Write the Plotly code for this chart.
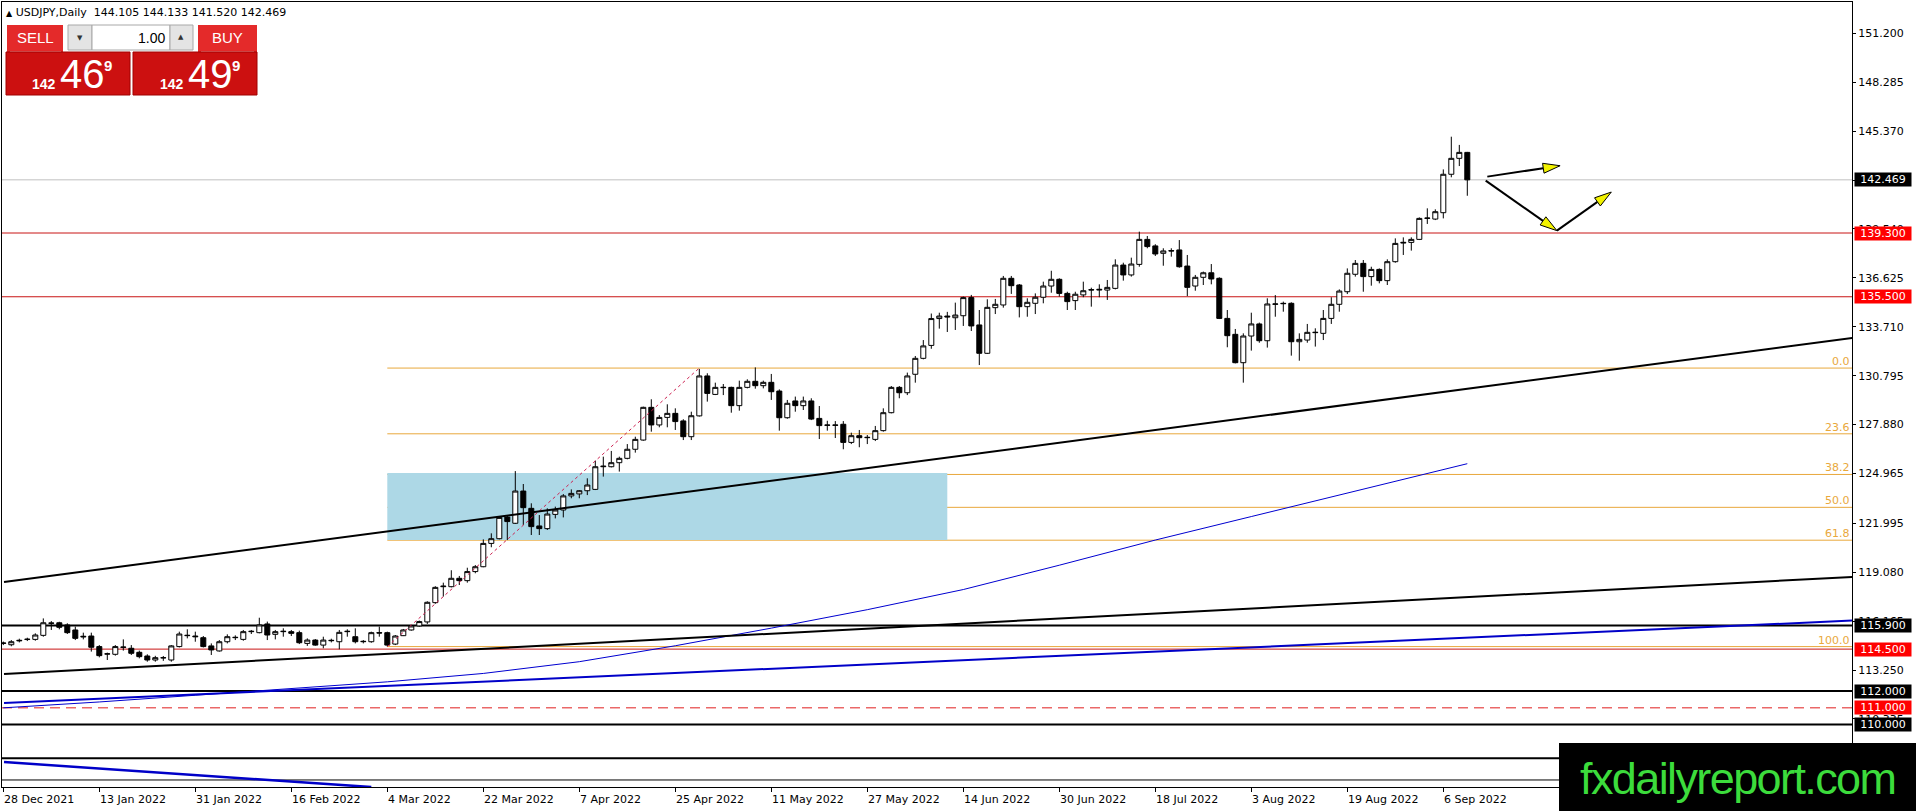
import math

import plotly.graph_objects as go


# Chart data ==========================================================================================================
# daily USDJPY bars, index 0 = 28 Dec 2021 ... index 183 = 9 Sep 2022
bar_open = [
    114.84, 114.76, 114.99, 115.07, 115.08, 115.32, 116.06, 116.07, 115.94, 115.64,
    115.22, 115.28, 114.65, 114.20, 114.19, 114.60, 114.55, 114.31, 114.09, 113.85,
    113.99, 113.85, 114.65, 115.30, 115.28, 115.18, 114.69, 114.39, 114.94, 115.18,
    115.08, 115.54, 115.48, 116.00, 115.38, 115.54, 115.54, 115.48, 114.84, 115.04,
    114.74, 115.00, 114.94, 115.54, 115.24, 114.94, 114.94, 115.48, 115.48, 114.80,
    115.30, 115.64, 115.88, 116.12, 117.27, 118.22, 118.22, 118.72, 118.58, 119.12,
    119.41, 120.80, 121.08, 122.37, 122.00, 123.92, 122.89, 121.84, 121.68, 122.53,
    122.79, 123.63, 123.75, 123.94, 124.02, 125.37, 125.37, 125.61, 125.87, 126.41,
    126.96, 128.91, 127.86, 128.31, 128.55, 128.10, 127.16, 128.40, 130.78, 129.68,
    130.08, 130.10, 129.01, 130.10, 130.46, 130.20, 130.40, 129.88, 128.29, 129.29,
    129.01, 129.29, 128.25, 127.86, 127.86, 127.90, 126.82, 127.22, 127.10, 127.00,
    127.52, 128.59, 130.10, 129.78, 130.88, 131.83, 132.60, 134.20, 134.35, 134.25,
    134.37, 135.45, 133.82, 132.13, 134.85, 135.01, 136.60, 136.20, 134.91, 135.11,
    135.47, 136.14, 136.54, 135.70, 135.27, 135.61, 135.90, 135.90, 135.90, 136.00,
    137.39, 136.80, 137.43, 138.92, 138.53, 138.09, 138.25, 138.29, 137.33, 136.14,
    136.66, 136.93, 136.60, 134.21, 133.26, 131.57, 133.16, 133.88, 132.88, 135.05,
    135.11, 135.11, 132.82, 132.92, 133.36, 133.32, 134.21, 135.05, 135.80, 136.84,
    137.49, 136.70, 137.13, 136.46, 137.59, 138.70, 138.74, 138.92, 140.17, 140.13,
    140.51, 142.80, 143.75, 144.105,
]
bar_high = [
    114.95, 115.04, 115.12, 115.18, 115.44, 116.33, 116.17, 116.13, 116.04, 115.84,
    115.48, 115.48, 114.74, 114.29, 114.74, 115.08, 114.74, 114.41, 114.19, 114.10,
    114.09, 114.74, 115.54, 115.68, 115.54, 115.28, 114.84, 115.04, 115.38, 115.32,
    115.64, 115.64, 116.37, 116.14, 115.64, 115.74, 115.64, 115.60, 115.14, 115.10,
    115.24, 115.12, 115.64, 115.68, 115.74, 115.04, 115.54, 115.84, 115.54, 115.34,
    115.70, 115.92, 116.20, 117.35, 118.25, 118.46, 119.20, 118.86, 119.35, 119.51,
    121.04, 121.40, 122.39, 122.45, 125.11, 124.34, 123.19, 122.49, 122.89, 122.99,
    123.74, 124.02, 123.98, 124.68, 125.73, 125.97, 126.31, 125.97, 126.72, 127.16,
    128.95, 129.39, 128.45, 129.09, 128.85, 128.20, 128.65, 131.20, 130.94, 130.38,
    130.30, 130.14, 130.50, 130.58, 131.29, 130.50, 130.90, 129.98, 129.35, 129.55,
    129.55, 129.45, 128.99, 128.11, 128.09, 128.09, 127.40, 127.56, 127.26, 127.80,
    128.85, 130.18, 130.18, 130.98, 131.97, 132.92, 134.50, 134.55, 134.60, 135.15,
    135.51, 135.61, 134.71, 135.35, 135.37, 136.74, 136.74, 136.26, 135.41, 135.70,
    136.40, 137.05, 136.60, 135.80, 135.80, 136.40, 136.04, 136.24, 136.50, 137.73,
    137.53, 137.83, 139.38, 139.12, 138.63, 138.39, 138.39, 138.88, 137.99, 136.80,
    137.00, 137.45, 136.66, 134.71, 133.58, 133.32, 134.55, 133.96, 135.41, 135.60,
    135.21, 135.17, 133.32, 133.88, 133.62, 134.71, 135.47, 135.94, 137.19, 137.69,
    137.69, 137.29, 137.19, 137.73, 138.98, 139.04, 139.04, 140.23, 140.77, 140.71,
    143.09, 145.04, 144.55, 144.133,
]
bar_low = [
    114.74, 114.67, 114.90, 114.98, 115.00, 115.24, 115.64, 115.68, 115.40, 115.04,
    115.08, 114.35, 114.01, 113.85, 114.11, 114.41, 114.15, 113.95, 113.75, 113.75,
    113.80, 113.75, 114.60, 115.14, 114.94, 114.60, 114.15, 114.35, 114.84, 115.04,
    115.00, 115.40, 115.44, 115.04, 115.08, 115.24, 115.28, 114.80, 114.69, 114.70,
    114.55, 114.90, 114.49, 115.24, 114.84, 114.84, 114.88, 115.24, 114.65, 114.74,
    115.28, 115.60, 115.84, 116.00, 117.20, 117.63, 118.18, 118.32, 118.46, 119.02,
    119.38, 120.57, 121.04, 121.00, 121.96, 121.90, 121.30, 121.30, 121.60, 122.29,
    122.35, 123.49, 123.49, 123.68, 123.98, 124.78, 125.33, 125.08, 125.81, 126.21,
    126.92, 127.46, 127.72, 127.72, 127.56, 126.96, 126.96, 128.36, 129.25, 129.64,
    129.64, 128.59, 128.71, 130.04, 130.02, 130.04, 129.35, 127.52, 128.23, 128.65,
    128.75, 128.15, 127.02, 127.52, 127.08, 126.41, 126.72, 126.53, 126.72, 126.90,
    127.46, 128.55, 129.45, 129.64, 130.38, 131.77, 132.40, 133.60, 133.40, 133.52,
    133.76, 133.46, 131.43, 132.09, 134.47, 134.85, 135.67, 134.27, 134.31, 134.47,
    135.11, 135.74, 135.51, 134.71, 134.71, 135.47, 134.91, 135.47, 135.31, 135.94,
    136.46, 136.70, 137.29, 138.39, 137.93, 137.35, 137.89, 137.23, 135.54, 135.86,
    136.20, 136.24, 134.17, 132.49, 131.53, 130.38, 132.29, 132.76, 132.47, 134.31,
    134.61, 131.99, 131.69, 132.76, 132.53, 132.92, 133.88, 134.61, 135.66, 136.70,
    135.80, 136.16, 136.30, 136.20, 137.53, 137.99, 138.25, 138.88, 139.84, 140.07,
    140.17, 142.62, 143.29, 141.520,
]
bar_close = [
    114.86, 114.94, 115.02, 115.09, 115.34, 116.07, 116.04, 115.80, 115.48, 115.14,
    115.26, 114.61, 114.11, 114.22, 114.65, 114.62, 114.25, 114.05, 113.85, 113.99,
    113.98, 114.69, 115.40, 115.32, 115.24, 114.65, 114.45, 114.94, 115.24, 115.20,
    115.54, 115.56, 115.94, 115.34, 115.54, 115.56, 115.44, 114.88, 115.04, 114.74,
    115.04, 115.02, 115.50, 115.56, 114.94, 114.96, 115.48, 115.46, 114.74, 115.28,
    115.64, 115.88, 116.14, 117.29, 118.18, 118.25, 118.72, 118.58, 119.12, 119.41,
    120.80, 121.08, 122.35, 122.10, 123.92, 122.93, 121.80, 121.68, 122.55, 122.79,
    123.63, 123.78, 123.94, 124.28, 125.37, 125.40, 125.61, 125.87, 126.41, 127.00,
    128.91, 127.86, 128.31, 128.55, 128.06, 127.16, 128.41, 130.78, 129.74, 130.10,
    130.10, 129.01, 130.10, 130.46, 130.20, 130.40, 129.84, 128.29, 129.15, 129.01,
    129.29, 128.21, 127.82, 127.84, 127.84, 126.82, 127.22, 127.10, 127.12, 127.52,
    128.59, 130.10, 129.78, 130.78, 131.83, 132.57, 134.20, 134.35, 134.30, 134.41,
    135.45, 133.76, 132.13, 134.87, 135.05, 136.60, 136.16, 134.91, 135.17, 135.47,
    136.14, 136.54, 135.70, 135.21, 135.65, 135.86, 135.92, 135.94, 136.06, 137.39,
    136.80, 137.45, 138.92, 138.49, 138.05, 138.23, 138.23, 137.29, 136.06, 136.66,
    136.93, 136.56, 134.21, 133.18, 131.57, 133.16, 133.88, 132.88, 135.07, 135.07,
    135.09, 132.82, 132.96, 133.38, 133.38, 134.21, 135.05, 135.84, 136.90, 137.49,
    136.70, 137.13, 136.46, 137.59, 138.68, 138.74, 138.92, 140.17, 140.19, 140.57,
    142.80, 143.75, 144.105, 142.469,
]

date_labels = [
    "28 Dec 2021", "13 Jan 2022", "31 Jan 2022", "16 Feb 2022", "4 Mar 2022", "22 Mar 2022",
    "7 Apr 2022", "25 Apr 2022", "11 May 2022", "27 May 2022", "14 Jun 2022", "30 Jun 2022",
    "18 Jul 2022", "3 Aug 2022", "19 Aug 2022", "6 Sep 2022",
]
bars_per_label = 12

price_ticks = [151.200, 148.285, 145.370, 142.455, 139.540, 136.625, 133.710, 130.795,
               127.880, 124.965, 121.995, 119.080, 116.165, 113.250, 110.335]

# 200-day moving average, sampled at bar indices
ma_bars = [0, 12, 24, 36, 48, 60, 72, 84, 96, 108, 120, 132, 144, 156, 168, 180, 183]
ma_values = [111.0, 111.35, 111.75, 112.15, 112.55, 113.05, 113.75, 114.7, 115.75,
             116.85, 118.05, 119.5, 121.0, 122.4, 123.8, 125.2, 125.55]

# hand drawn objects (bar index, price)
trend_black_upper = [(0.09, 118.50), (231.1, 133.04)]
trend_black_lower = [(0.09, 113.02), (231.1, 118.80)]
trend_blue = [(0.09, 111.29), (231.1, 116.20)]
trend_blue_down = [(0.09, 107.77), (46.0, 106.28)]

fib_start_bar, fib_end_bar = 48, 87
fib_low, fib_high = 114.65, 131.25
fib_levels = [0.0, 23.6, 38.2, 50.0, 61.8, 100.0]

zone_bars = (48, 118)
zone_prices = (121.0, 125.0)

black_levels = [115.9, 112.0, 110.0, 108.0]
thin_black_levels = [106.7]
red_levels = [139.3, 135.5, 114.5]
red_dashed_levels = [111.0]
last_price = 142.469

labelled_levels = [(142.469, "black"), (139.3, "red"), (135.5, "red"), (115.9, "black"),
                   (114.5, "red"), (112.0, "black"), (111.0, "red"), (110.0, "black")]

arrows = [((185.5, 142.66), (194.6, 143.31)),
          ((185.3, 142.42), (194.2, 139.44)),
          ((194.2, 139.44), (201.0, 141.74))]

header = "USDJPY,Daily\u00a0\u00a0144.105 144.133 141.520 142.469"


# Geometry ============================================================================================================
W, H = 1916, 811
PLOT_L, PLOT_R, PLOT_T, PLOT_B = 2, 1852, 2, 787
PX_PER_BAR = 8.0
PRICE_PER_PX = 0.0596
X_LO = (PLOT_L - 3.3) / PX_PER_BAR
X_HI = X_LO + (PLOT_R - PLOT_L) / PX_PER_BAR
Y_HI = 139.3 + (233 - PLOT_T) * PRICE_PER_PX
Y_LO = Y_HI - (PLOT_B - PLOT_T) * PRICE_PER_PX

FONT = "DejaVu Sans"
RED = "#FF0000"
LINE_RED = "#C81414"
FIB = "#E9A83C"


def px_x(x):
    return (x - PLOT_L) / (PLOT_R - PLOT_L)


def px_y(y):
    return (PLOT_B - y) / (PLOT_B - PLOT_T)


def hline(fig, price, color, width, dash="solid", x0=0.0):
    fig.add_shape(type="line", xref="paper", yref="y", x0=x0, x1=1, y0=price, y1=price,
                  line=dict(color=color, width=width, dash=dash), layer="below")


def seg(fig, pts, color, width, dash="solid"):
    fig.add_trace(go.Scatter(x=[p[0] for p in pts], y=[p[1] for p in pts], mode="lines",
                             line=dict(color=color, width=width, dash=dash), hoverinfo="skip"))


def box_px(fig, x0, y0, x1, y1, fill, line=None):
    fig.add_shape(type="rect", xref="paper", yref="paper", x0=px_x(x0), x1=px_x(x1),
                  y0=px_y(y0), y1=px_y(y1), fillcolor=fill, layer="above",
                  line=dict(color=line or fill, width=1 if line else 0))


def text_px(fig, x, y, text, size, color="black", xanchor="center", family=FONT, bold=False):
    if bold:
        text = "<b>" + text + "</b>"
    fig.add_annotation(xref="paper", yref="paper", x=px_x(x), y=px_y(y), text=text, showarrow=False,
                       xanchor=xanchor, yanchor="middle", borderpad=0,
                       font=dict(family=family, size=size, color=color))


def arrow(fig, tail, tip, length=17, width=10):
    px_per_price = 1 / PRICE_PER_PX
    dx = (tip[0] - tail[0]) * PX_PER_BAR
    dy = (tip[1] - tail[1]) * px_per_price
    n = math.hypot(dx, dy)
    ux, uy = dx / n, dy / n
    bx, by = -ux * length, -uy * length
    nx, ny = -uy * width / 2, ux * width / 2

    def to_data(px, py):
        return tip[0] + px / PX_PER_BAR, tip[1] + py / px_per_price

    base = to_data(bx, by)
    seg(fig, [tail, base], "black", 2)
    pts = [to_data(0, 0), to_data(bx + nx, by + ny), to_data(bx - nx, by - ny)]
    path = "M " + " L ".join(f"{a},{b}" for a, b in pts) + " Z"
    fig.add_shape(type="path", xref="x", yref="y", path=path, fillcolor="#F2F200",
                  line=dict(color="black", width=1), layer="above")


# Figure ==============================================================================================================
def build():
    fig = go.Figure()
    bars = list(range(len(bar_close)))

    # levels and drawing objects under the candles
    fig.add_shape(type="rect", xref="x", yref="y", x0=zone_bars[0], x1=zone_bars[1],
                  y0=zone_prices[0], y1=zone_prices[1], fillcolor="#ADD8E6", line=dict(width=0), layer="below")
    for p in black_levels:
        hline(fig, p, "black", 2)
    for p in thin_black_levels:
        hline(fig, p, "black", 1)
    for p in red_levels:
        hline(fig, p, LINE_RED, 1)
    for p in red_dashed_levels:
        hline(fig, p, "#E01E1E", 1, dash="10px,6px")
    hline(fig, last_price, "#C0C0C0", 1)

    fib_x0 = px_x(3.3 + fib_start_bar * PX_PER_BAR)
    for lvl in fib_levels:
        price = fib_high - lvl / 100 * (fib_high - fib_low)
        hline(fig, price, FIB, 1, x0=fib_x0)
        fig.add_annotation(xref="paper", yref="y", x=px_x(1851), y=price, text=f"{lvl:.1f}",
                           showarrow=False, xanchor="right", yanchor="bottom", borderpad=0, yshift=-1,
                           font=dict(family=FONT, size=11, color=FIB))

    fig.add_trace(go.Candlestick(
        x=bars, open=bar_open, high=bar_high, low=bar_low, close=bar_close,
        increasing=dict(line=dict(color="black", width=1), fillcolor="white"),
        decreasing=dict(line=dict(color="black", width=1), fillcolor="black"),
        hoverinfo="skip", whiskerwidth=0,
    ))

    seg(fig, [(fib_start_bar, fib_low), (fib_end_bar, fib_high)], "#CC2050", 1, dash="3px,3px")
    seg(fig, list(zip(ma_bars, ma_values)), "#0000D0", 1)
    seg(fig, trend_black_upper, "black", 2)
    seg(fig, trend_black_lower, "black", 2)
    seg(fig, trend_blue, "#0000C8", 2)
    seg(fig, trend_blue_down, "#0000C8", 2.5)

    for tail, tip in arrows:
        arrow(fig, tail, tip)

    # price labels on the right scale
    for price, kind in labelled_levels:
        bg = "black" if kind == "black" else RED
        fig.add_annotation(xref="paper", yref="y", x=px_x(1854), y=price, text=f"{price:.3f}",
                           showarrow=False, xanchor="left", yanchor="middle", width=54, height=11,
                           borderpad=1, bgcolor=bg, align="center",
                           font=dict(family=FONT, size=11, color="white"))

    # date labels, left aligned on their ticks
    tick_bars = [i * bars_per_label for i in range(len(date_labels))]
    for b, lab in zip(tick_bars, date_labels):
        fig.add_annotation(xref="x", yref="paper", x=b, y=px_y(799), text=lab, showarrow=False,
                           xanchor="left", yanchor="middle", borderpad=0,
                           font=dict(family=FONT, size=11, color="black"))

    # header and one-click trading panel
    text_px(fig, 5, 13, "<span style='font-size:8px'>\u25b2</span> " + header, 11, xanchor="left")
    box_px(fig, 7, 25, 63, 52, "#E42A2A")
    box_px(fig, 10, 51, 61, 52, "#F28A8A")
    box_px(fig, 68, 25, 92, 50, "#E4E4E4", "#A8A8A8")
    box_px(fig, 92, 25, 170, 50, "white", "#A8A8A8")
    box_px(fig, 170, 25, 193, 50, "#E4E4E4", "#A8A8A8")
    box_px(fig, 198, 25, 257, 52, "#E42A2A")
    box_px(fig, 201, 51, 254, 52, "#F28A8A")
    box_px(fig, 6, 52, 130, 95, "#CC1010", "#A00000")
    box_px(fig, 133, 52, 257, 95, "#CC1010", "#A00000")
    text_px(fig, 35, 38, "SELL", 15, "white", family="Liberation Sans")
    text_px(fig, 227, 38, "BUY", 15, "white", family="Liberation Sans")
    text_px(fig, 80, 38, "\u25bc", 7, "#333333")
    text_px(fig, 181, 37, "\u25b2", 7, "#333333")
    text_px(fig, 166, 38, "1.00", 14, xanchor="right", family="Liberation Sans")
    for x0, big in [(31, "46"), (159, "49")]:
        text_px(fig, x0, 84, "142", 14, "white", xanchor="left", family="Liberation Sans", bold=True)
        text_px(fig, x0 + 28, 74, big, 40, "white", xanchor="left", family="Liberation Sans")
        text_px(fig, x0 + 77, 66, "9", 15, "white", family="Liberation Sans", bold=True)

    # watermark
    box_px(fig, 1559, 743, 1916, 811, "black")
    text_px(fig, 1737, 778, "<span style='letter-spacing:-1.6px'>fxdailyreport.com</span>", 45,
            "#3CDC3C", family="Liberation Sans")

    fig.update_layout(
        width=W, height=H,
        margin=dict(l=PLOT_L, r=W - PLOT_R, t=PLOT_T, b=H - PLOT_B, pad=0),
        paper_bgcolor="white", plot_bgcolor="white",
        showlegend=False, boxgap=0.375, boxgroupgap=0,
        xaxis=dict(range=[X_LO, X_HI], showgrid=False, zeroline=False, showline=True, linecolor="black",
                   linewidth=1, mirror=True, tickvals=tick_bars, ticks="outside", ticklen=4,
                   tickcolor="black", showticklabels=False, rangeslider=dict(visible=False), fixedrange=True),
        yaxis=dict(range=[Y_LO, Y_HI], side="right", showgrid=False, zeroline=False, showline=True,
                   linecolor="black", linewidth=1, mirror=True, tickvals=price_ticks,
                   ticktext=[f"{v:.3f}" for v in price_ticks], ticks="outside", ticklen=3, tickcolor="black",
                   tickfont=dict(family=FONT, size=11, color="black"), fixedrange=True),
    )
    return fig


if __name__ == "__main__":
    fig = build()
    fig.write_html("out.html", config={"displayModeBar": False},
                   post_script="document.body.style.margin='0';document.body.style.overflow='hidden';")
